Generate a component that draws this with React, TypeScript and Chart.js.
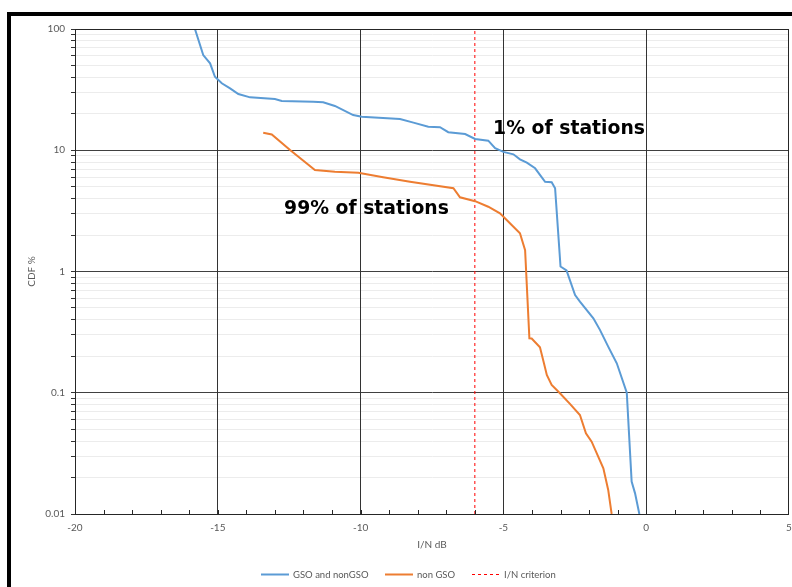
import React, { useEffect, useRef } from "react";
import { Chart, registerables } from "chart.js";

Chart.register(...registerables);

// CDF of I/N for the combined GSO + non-GSO case
const gsoNonGsoX = [
  -15.8, -15.51, -15.27, -15.1, -14.86, -14.57, -14.28, -13.87, -13.0, -12.76,
  -11.66, -11.31, -10.9, -10.26, -9.96, -8.62, -8.15, -7.63, -7.22, -6.93,
  -6.34, -5.99, -5.53, -5.29, -5.0, -4.65, -4.42, -4.18, -3.89, -3.54,
  -3.31, -3.19, -3.0, -2.79, -2.49, -2.32, -1.85, -1.62, -1.33, -1.03,
  -0.68, -0.51, -0.39, -0.24,
];
const gsoNonGsoY = [
  100, 61.0, 52.1, 40.4, 35.7, 32.4, 29.1, 27.3, 26.5, 25.5,
  25.1, 24.9, 23.2, 19.5, 18.9, 18.1, 16.9, 15.6, 15.5, 14.1,
  13.6, 12.4, 12.0, 10.4, 9.7, 9.26, 8.42, 7.89, 7.1, 5.5,
  5.44, 4.86, 1.1, 1.02, 0.64, 0.564, 0.411, 0.33, 0.24, 0.175,
  0.1, 0.0185, 0.0148, 0.01,
];

// CDF of I/N for the non-GSO case only
const nonGsoX = [
  -13.41, -13.11, -12.47, -11.6, -10.9, -10.08, -9.21, -8.27, -6.75, -6.52,
  -5.99, -5.53, -5.12, -4.71, -4.42, -4.24, -4.09, -4.01, -3.72, -3.58,
  -3.48, -3.31, -3.02, -2.67, -2.32, -2.11, -1.91, -1.5, -1.33, -1.21,
];
const nonGsoY = [
  13.96, 13.5, 10.05, 6.87, 6.65, 6.53, 5.98, 5.5, 4.86, 4.09,
  3.8, 3.42, 3.02, 2.42, 2.07, 1.5, 0.281, 0.28, 0.237, 0.175,
  0.14, 0.116, 0.099, 0.081, 0.0655, 0.0463, 0.0395, 0.0238, 0.0158, 0.01,
];

// Protection criterion on I/N (dB)
const criterionX = [-6, -6];
const criterionY = [0.01, 100];

const seriesNames = ["GSO and nonGSO", "non GSO", "I/N criterion"];
const seriesColors = ["#5B9BD5", "#ED7D31", "#FF0000"];

const yDecades = [0.01, 0.1, 1, 10, 100];
const xMin = -20;
const xMax = 5;
const xLabelStep = 5;

const annotations = [
  { text: "1% of stations", x: -5.36, y: 14.8, width: 152 },
  { text: "99% of stations", x: -12.68, y: 3.3, width: 165 },
];

const xTitle = "I/N dB";
const yTitle = "CDF %";

const labelFont = "Lato, 'Liberation Sans', sans-serif";
const labelColor = "#595959";

function buildLogTicks() {
  const vals: number[] = [];
  for (let i = 0; i < yDecades.length; i++) {
    const d = yDecades[i];
    vals.push(d);
    if (i < yDecades.length - 1) {
      for (let m = 2; m <= 9; m++) vals.push(Number((d * m).toPrecision(3)));
    }
  }
  return vals;
}

const isDecade = (v: number) => yDecades.some((d) => Math.abs(d - v) < d * 1e-6);

const toPoints = (xs: number[], ys: number[]) => xs.map((x, i) => ({ x, y: ys[i] }));

const framePlugin = {
  id: "frame",
  beforeDraw(chart: any) {
    const { ctx, width, height } = chart;
    ctx.save();
    ctx.fillStyle = "#ffffff";
    ctx.fillRect(0, 0, width, height);
    // heavy outer frame along top and left edges
    ctx.fillStyle = "#000000";
    ctx.fillRect(7, 12, width - 7, 4);
    ctx.fillRect(7, 12, 4, height - 12);
    ctx.restore();
  },
  beforeDatasetsDraw(chart: any) {
    // annotation text, sized to its target width
    const { ctx } = chart;
    const xs = chart.scales.x;
    const ys = chart.scales.y;
    ctx.save();
    ctx.fillStyle = "#000000";
    ctx.textBaseline = "middle";
    ctx.textAlign = "left";
    for (const a of annotations) {
      ctx.font = "bold 20px 'DejaVu Sans', sans-serif";
      const w = ctx.measureText(a.text).width;
      const size = (20 * a.width) / w;
      ctx.font = `bold ${size.toFixed(2)}px 'DejaVu Sans', sans-serif`;
      ctx.fillText(a.text, xs.getPixelForValue(a.x), ys.getPixelForValue(a.y));
    }
    ctx.restore();
  },
  afterDraw(chart: any) {
    const { ctx, chartArea } = chart;
    const { left, right, top, bottom } = chartArea;
    const xs = chart.scales.x;
    ctx.save();
    // plot border
    ctx.strokeStyle = "#262626";
    ctx.lineWidth = 1;
    ctx.strokeRect(Math.round(left) + 0.5, Math.round(top) + 0.5, Math.round(right - left) - 1, Math.round(bottom - top));
    // inward minor tick marks on the x axis
    ctx.beginPath();
    for (let v = xMin + 1; v < xMax; v++) {
      const px = Math.round(xs.getPixelForValue(v)) + 0.5;
      ctx.moveTo(px, bottom);
      ctx.lineTo(px, bottom - 4);
    }
    ctx.stroke();

    // axis titles
    ctx.fillStyle = labelColor;
    ctx.font = `10px ${labelFont}`;
    ctx.textAlign = "center";
    ctx.textBaseline = "middle";
    ctx.fillText(xTitle, (left + right) / 2, 545);
    ctx.save();
    ctx.translate(32, (top + bottom) / 2);
    ctx.rotate(-Math.PI / 2);
    ctx.fillText(yTitle, 0, 0);
    ctx.restore();

    // legend
    const ly = 574.5;
    const items = [
      { x: 261, dash: [] as number[] },
      { x: 385, dash: [] as number[] },
      { x: 472, dash: [3, 3] },
    ];
    ctx.font = `9.5px ${labelFont}`;
    ctx.textAlign = "left";
    items.forEach((it, i) => {
      ctx.strokeStyle = seriesColors[i];
      ctx.lineWidth = i === 2 ? 1 : 2;
      ctx.setLineDash(it.dash);
      ctx.beginPath();
      ctx.moveTo(it.x, ly);
      ctx.lineTo(it.x + 28, ly);
      ctx.stroke();
      ctx.setLineDash([]);
      ctx.fillStyle = labelColor;
      ctx.fillText(seriesNames[i], it.x + 32, ly);
    });
    ctx.restore();
  },
};

export default function App() {
  const canvasRef = useRef<HTMLCanvasElement | null>(null);

  useEffect(() => {
    if (!canvasRef.current) return;
    const yTicks = buildLogTicks();
    const chart = new Chart(canvasRef.current, {
      type: "line",
      data: {
        datasets: [
          {
            label: seriesNames[0],
            data: toPoints(gsoNonGsoX, gsoNonGsoY),
            borderColor: seriesColors[0],
            borderWidth: 2,
            pointRadius: 0,
            tension: 0,
          },
          {
            label: seriesNames[1],
            data: toPoints(nonGsoX, nonGsoY),
            borderColor: seriesColors[1],
            borderWidth: 2,
            pointRadius: 0,
            tension: 0,
          },
          {
            label: seriesNames[2],
            data: toPoints(criterionX, criterionY),
            borderColor: seriesColors[2],
            borderWidth: 1,
            borderDash: [3, 3],
            pointRadius: 0,
          },
        ],
      },
      options: {
        responsive: false,
        animation: false,
        devicePixelRatio: 1,
        layout: { padding: { left: 0, right: 3, top: 29, bottom: 0 } },
        plugins: {
          legend: { display: false },
          tooltip: { enabled: false },
        },
        scales: {
          x: {
            type: "linear",
            min: xMin,
            max: xMax,
            border: { display: false },
            afterFit: (s: any) => {
              s.height = 73;
              s.paddingLeft = 0;
              s.paddingRight = 0;
            },
            ticks: {
              stepSize: 1,
              autoSkip: false,
              maxRotation: 0,
              padding: 4,
              color: labelColor,
              font: { family: labelFont, size: 10 },
              callback: (v: any) => (Number(v) % xLabelStep === 0 ? String(v) : ""),
            },
            grid: {
              z: -1,
              drawTicks: true,
              tickLength: 4,
              tickColor: "rgba(0,0,0,0)",
              lineWidth: 1,
              color: (c: any) => {
                const v = c.tick ? c.tick.value : NaN;
                return v % xLabelStep === 0 && v !== xMin && v !== xMax ? "#333333" : "rgba(0,0,0,0)";
              },
            },
          },
          y: {
            type: "logarithmic",
            min: yDecades[0],
            max: yDecades[yDecades.length - 1],
            border: { display: true, color: "#808080", width: 1 },
            afterFit: (s: any) => {
              s.width = 75;
              s.paddingTop = 0;
              s.paddingBottom = 0;
            },
            afterBuildTicks: (s: any) => {
              s.ticks = yTicks.map((value) => ({ value, major: isDecade(value) }));
            },
            ticks: {
              autoSkip: false,
              padding: 6,
              color: labelColor,
              font: { family: labelFont, size: 10 },
              callback: (v: any) => (isDecade(Number(v)) ? String(v) : ""),
            },
            grid: {
              z: -2,
              drawTicks: true,
              tickLength: 4,
              tickColor: "#333333",
              lineWidth: 1,
              color: (c: any) => {
                const v = c.tick ? c.tick.value : NaN;
                if (v === yDecades[0] || v === yDecades[yDecades.length - 1]) return "#333333";
                return isDecade(v) ? "#404040" : "#ececec";
              },
            },
          },
        },
      },
      plugins: [framePlugin],
    });
    return () => chart.destroy();
  }, []);

  return (
    <div style={{ position: "fixed", left: 0, top: 0, width: 792, height: 587, background: "#fff" }}>
      <canvas ref={canvasRef} width={792} height={587} style={{ display: "block" }} />
    </div>
  );
}
